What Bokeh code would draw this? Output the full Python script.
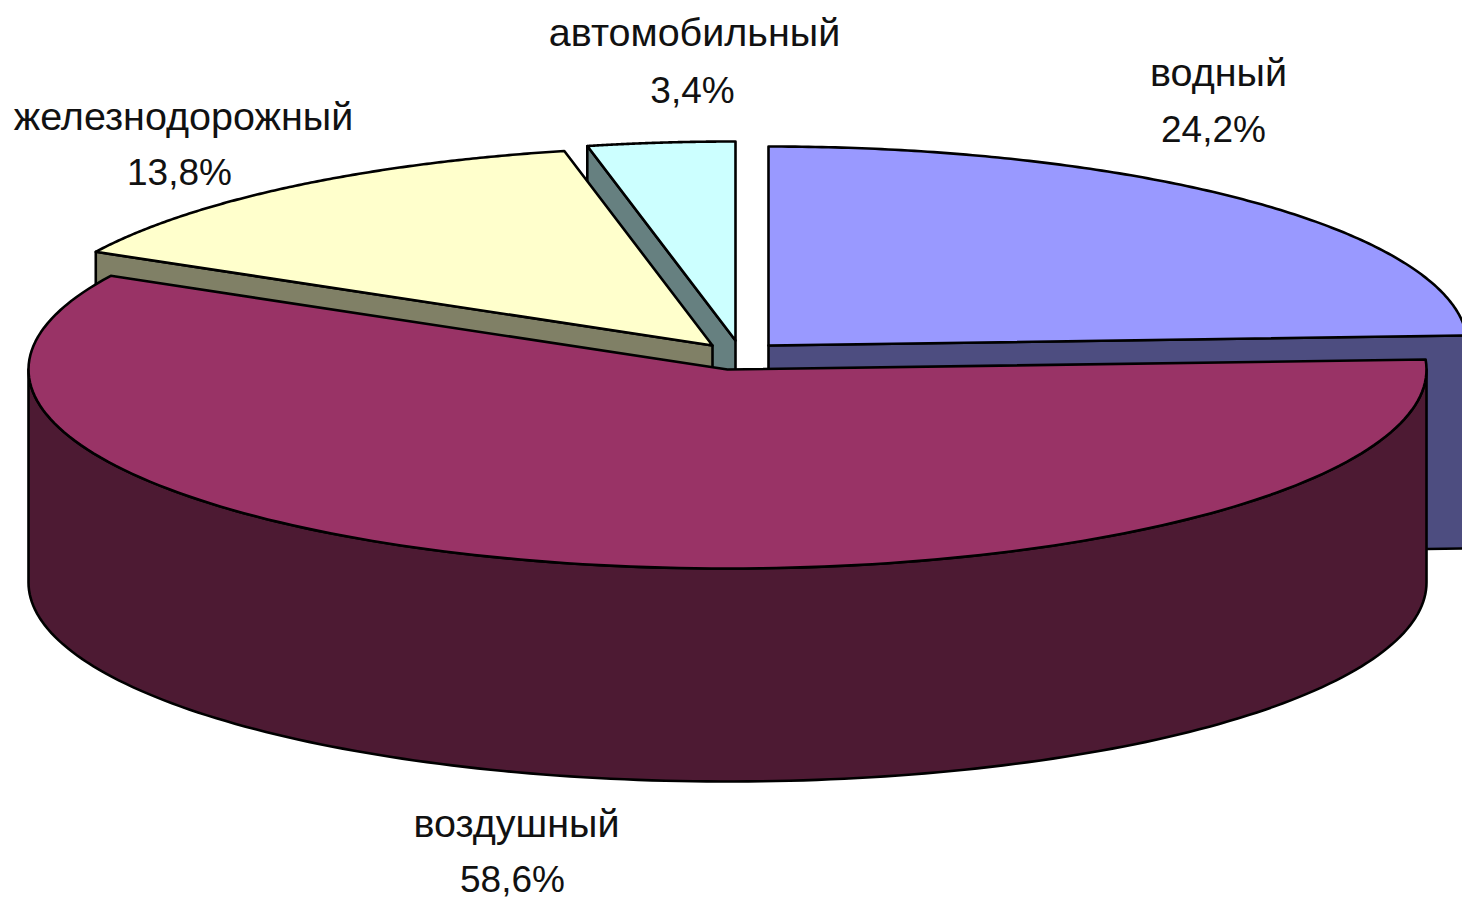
import numpy as np
from bokeh.plotting import figure
from bokeh.models import Range1d, ColumnDataSource
from bokeh.core.properties import value
from bokeh.embed import file_html
from bokeh.resources import INLINE

names = ["водный", "воздушный", "железнодорожный", "автомобильный"]
shares = [24.2, 58.6, 13.8, 3.4]
share_labels = ["24,2%", "58,6%", "13,8%", "3,4%"]
top_colors = ["#9999FF", "#993366", "#FFFFCC", "#CCFFFF"]
side_colors = ["#4D4D80", "#4D1A33", "#808066", "#668080"]

# layout of the exploded pie, in page pixels
centers = [(768, 345), (727, 369), (712, 345), (735, 340)]
RX, RY, DEPTH = 699, 199, 213
name_pos = [(1218, 71), (516, 822), (183, 115), (694, 31)]
pct_pos = [(1213, 129), (512, 879), (179, 172), (692, 90)]

p = figure(width=1462, height=902, output_backend="svg", toolbar_location=None,
           x_range=Range1d(0, 1462), y_range=Range1d(902, 0),
           min_border=0, outline_line_color=None, background_fill_color="white",
           border_fill_color="white")
p.axis.visible = False
p.grid.visible = False

edges = np.cumsum([0] + shares) / 100 * 2 * np.pi


def rim(i, a, b, n=160):
    t = np.linspace(a, b, n)
    cx, cy = centers[i]
    return cx + RX * np.sin(t), cy - RY * np.cos(t)


def draw_patch(x, y, color):
    p.patch(list(x), list(y), fill_color=color, line_color="black", line_width=2.6,
            line_join="round")


def cut_face(i, ang):
    cx, cy = centers[i]
    ex, ey = cx + RX * np.sin(ang), cy - RY * np.cos(ang)
    draw_patch([cx, ex, ex, cx], [cy, ey, ey + DEPTH, cy + DEPTH], side_colors[i])


def top(i):
    cx, cy = centers[i]
    x, y = rim(i, edges[i], edges[i + 1])
    draw_patch(np.r_[cx, x], np.r_[cy, y], top_colors[i])


# back slices first, the large front slice last
cut_face(0, edges[1])
top(0)
cut_face(3, edges[3])
top(3)
cut_face(2, edges[2])
top(2)
x, y = rim(1, 0.5 * np.pi, 1.5 * np.pi)
draw_patch(np.r_[x, x[::-1]], np.r_[y, y[::-1] + DEPTH], side_colors[1])
top(1)

font = value("Liberation Sans")
name_src = ColumnDataSource(dict(x=[q[0] for q in name_pos], y=[q[1] for q in name_pos], t=names))
pct_src = ColumnDataSource(dict(x=[q[0] for q in pct_pos], y=[q[1] for q in pct_pos], t=share_labels))
p.text("x", "y", text="t", source=name_src, text_font=font, text_font_size="39.5px",
       text_align="center", text_baseline="alphabetic", text_color="#111111")
p.text("x", "y", text="t", source=pct_src, text_font=font, text_font_size="37px",
       text_align="center", text_baseline="alphabetic", text_color="#111111")

open("out.html", "w").write(file_html(p, INLINE))
